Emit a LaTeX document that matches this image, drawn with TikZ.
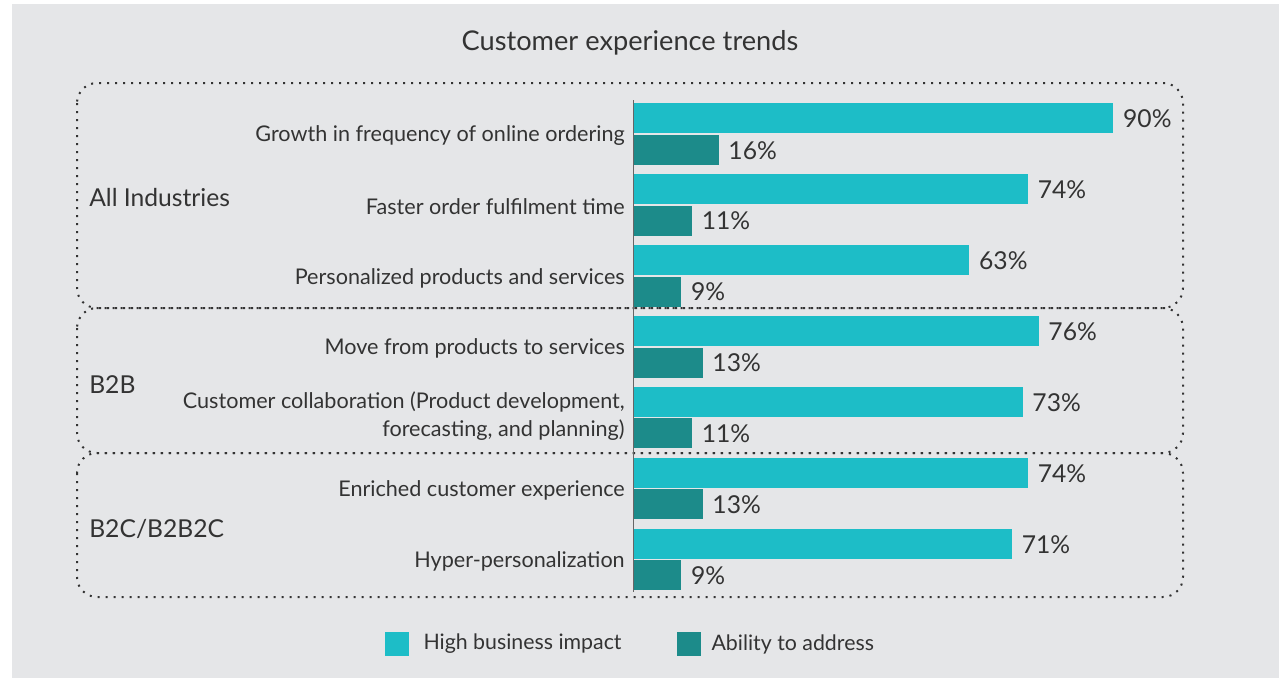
\documentclass[tikz,border=0pt]{standalone}
\usepackage{fontspec}
\setmainfont{Lato}
\usetikzlibrary{positioning}

\definecolor{hiimpact}{HTML}{1DBDC7}
\definecolor{ability}{HTML}{1C8B8A}
\definecolor{panel}{HTML}{E5E6E8}
\definecolor{ink}{HTML}{333333}

\tikzset{
  hibar/.style={fill=hiimpact, inner sep=0pt, minimum height=22.5pt, anchor=north west},
  abbar/.style={fill=ability, inner sep=0pt, minimum height=22.5pt, anchor=north west},
  pct/.style={inner sep=0pt, anchor=west, text=ink, font=\fontsize{18.5}{21}\selectfont},
  itemlabel/.style={inner sep=0pt, anchor=east, align=right, text=ink, font=\fontsize{16.2}{20.5}\selectfont},
  grouplabel/.style={inner sep=0pt, anchor=west, text=ink, font=\fontsize{18.5}{22}\selectfont},
  groupbox/.style={draw=ink, line width=1.5pt, dash pattern=on 1.5pt off 4.5pt, rounded corners=15pt},
  legendkey/.style={inner sep=0pt, minimum size=18pt},
  legendtext/.style={inner sep=0pt, anchor=west, text=ink, font=\fontsize{16}{19}\selectfont},
}

\begin{document}
\begin{tikzpicture}[x=0.75pt, y=-0.75pt]
            \useasboundingbox (0,0) rectangle (1279,678);
            \fill[panel] (12,4) rectangle (1279,678);

            \node[text=ink, font=\fontsize{20.4}{24}\selectfont] (title) at (630,43) {Customer experience trends};

            % group frames
            \draw[groupbox] (77,83) rectangle (1183,308);
            \draw[groupbox] (77,308) rectangle (1183,453);
            \draw[groupbox] (77,453) rectangle (1183,597);

            \node[grouplabel] (all) at (89,198) {All Industries};
            \node[grouplabel] (btb) at (89,385) {B2B};
            \node[grouplabel] (btc) at (89,529) {B2C/B2B2C};

            % bars
            \node[hibar, minimum width=360pt] (h1) at (633,103) {};
            \node[abbar, minimum width=64pt] (a1) at (633,135) {};
            \node[hibar, minimum width=296pt] (h2) at (633,174) {};
            \node[abbar, minimum width=44pt] (a2) at (633,205.5) {};
            \node[hibar, minimum width=252pt] (h3) at (633,245) {};
            \node[abbar, minimum width=36pt] (a3) at (633,276.5) {};
            \node[hibar, minimum width=304pt] (h4) at (633,316) {};
            \node[abbar, minimum width=52pt] (a4) at (633,347.5) {};
            \node[hibar, minimum width=292pt] (h5) at (633,387) {};
            \node[abbar, minimum width=44pt] (a5) at (633,418) {};
            \node[hibar, minimum width=296pt] (h6) at (633,458) {};
            \node[abbar, minimum width=52pt] (a6) at (633,489) {};
            \node[hibar, minimum width=284pt] (h7) at (633,529) {};
            \node[abbar, minimum width=36pt] (a7) at (633,560) {};

            % values
            \node[pct, right=7pt of h1.east] (h1v) {90\%};
            \node[pct, right=7pt of a1.east] (a1v) {16\%};
            \node[pct, right=7pt of h2.east] (h2v) {74\%};
            \node[pct, right=7pt of a2.east] (a2v) {11\%};
            \node[pct, right=7pt of h3.east] (h3v) {63\%};
            \node[pct, right=7pt of a3.east] (a3v) {9\%};
            \node[pct, right=7pt of h4.east] (h4v) {76\%};
            \node[pct, right=7pt of a4.east] (a4v) {13\%};
            \node[pct, right=7pt of h5.east] (h5v) {73\%};
            \node[pct, right=7pt of a5.east] (a5v) {11\%};
            \node[pct, right=7pt of h6.east] (h6v) {74\%};
            \node[pct, right=7pt of a6.east] (a6v) {13\%};
            \node[pct, right=7pt of h7.east] (h7v) {71\%};
            \node[pct, right=7pt of a7.east] (a7v) {9\%};

            % item labels
            \node[itemlabel] (t1) at (625,136) {Growth in frequency of online ordering};
            \node[itemlabel] (t2) at (625,207) {Faster order fulfilment time};
            \node[itemlabel] (t3) at (625,278) {Personalized products and services};
            \node[itemlabel] (t4) at (625,348) {Move from products to services};
            \node[itemlabel] (t5) at (625,416) {Customer collaboration (Product development,\\forecasting, and planning)};
            \node[itemlabel] (t6) at (625,490) {Enriched customer experience};
            \node[itemlabel] (t7) at (625,561) {Hyper-personalization};

            % axis
            \coordinate (axtop) at (633,100);
            \coordinate (axbot) at (633,592);
            \draw[black!60, line width=0.75pt] (axtop) -- (axbot);

            % legend
            \node[legendkey, fill=hiimpact] (k1) at (397,644) {};
            \node[legendtext, right=10.5pt of k1.east] (k1t) {High business impact};
            \node[legendkey, fill=ability] (k2) at (689,644) {};
            \node[legendtext, right=7.5pt of k2.east] (k2t) {Ability to address};
        \end{tikzpicture}
\end{document}
